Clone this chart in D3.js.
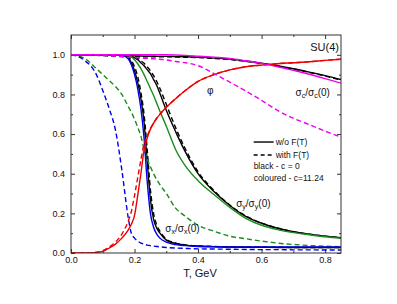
<!DOCTYPE html>
<html>
<head>
<meta charset="utf-8">
<script src="https://cdn.jsdelivr.net/npm/d3@7"></script>
<style>
  body { margin: 0; background: #fff; }
  svg text { font-family: "Liberation Sans", Arial, sans-serif; fill: #111; }
  .axis path { display: none; }
  .axis line { stroke: #333; stroke-width: 1; }
</style>
</head>
<body>
<div class="chart"></div>
<script>
var width = 397, height = 304;
var margin = {left: 71, right: 56, top: 35, bottom: 51};

// temperature grid, GeV
var T = [0, 0.04, 0.08, 0.1, 0.12, 0.14, 0.16, 0.18, 0.19, 0.2, 0.21, 0.22, 0.23, 0.24, 0.25,
         0.26, 0.27, 0.28, 0.3, 0.33, 0.36, 0.4, 0.45, 0.5, 0.55, 0.6, 0.65, 0.7, 0.75, 0.8, 0.85];

// black: c = 0
var sxBlack      = [1, 1, 1, 1, 1, 0.999, 0.998, 0.985, 0.96, 0.92, 0.86, 0.78, 0.66, 0.46, 0.27,
                    0.17, 0.125, 0.1, 0.065, 0.048, 0.04, 0.035, 0.032, 0.03, 0.029, 0.029, 0.028, 0.028, 0.028, 0.028, 0.028];
var sxBlackF     = [1, 1, 1, 1, 1, 0.999, 0.998, 0.99, 0.97, 0.94, 0.89, 0.81, 0.7, 0.52, 0.32,
                    0.2, 0.14, 0.11, 0.07, 0.05, 0.041, 0.036, 0.033, 0.031, 0.03, 0.029, 0.029, 0.028, 0.028, 0.028, 0.028];
var syBlack      = [1, 1, 1, 1, 1, 1, 1, 0.997, 0.992, 0.985, 0.975, 0.96, 0.945, 0.925, 0.905,
                    0.875, 0.845, 0.805, 0.72, 0.61, 0.51, 0.4, 0.31, 0.24, 0.185, 0.15, 0.125, 0.108, 0.095, 0.085, 0.077];
var syBlackF     = [1, 1, 1, 1, 1, 1, 1, 0.998, 0.995, 0.99, 0.982, 0.97, 0.957, 0.94, 0.92,
                    0.895, 0.865, 0.83, 0.75, 0.63, 0.525, 0.41, 0.315, 0.242, 0.187, 0.151, 0.126, 0.108, 0.095, 0.085, 0.077];
var scBlack      = [1, 1, 0.999, 0.999, 0.998, 0.997, 0.997, 0.996, 0.995, 0.995, 0.994, 0.994, 0.993, 0.993, 0.993,
                    0.993, 0.992, 0.992, 0.992, 0.991, 0.99, 0.988, 0.984, 0.978, 0.969, 0.958, 0.945, 0.93, 0.913, 0.895, 0.875];
var scBlackF     = [1, 0.999, 0.997, 0.996, 0.994, 0.993, 0.992, 0.991, 0.99, 0.99, 0.99, 0.99, 0.99, 0.99, 0.99,
                    0.99, 0.99, 0.99, 0.99, 0.989, 0.988, 0.986, 0.982, 0.976, 0.967, 0.956, 0.943, 0.928, 0.911, 0.893, 0.873];

// coloured: c = 11.24
var sxBlue       = [1, 1, 1, 1, 1, 0.999, 0.997, 0.98, 0.95, 0.9, 0.83, 0.73, 0.58, 0.36, 0.2,
                    0.13, 0.095, 0.075, 0.055, 0.042, 0.037, 0.033, 0.031, 0.03, 0.03, 0.03, 0.03, 0.03, 0.03, 0.03, 0.03];
var sxBlueF      = [1, 0.975, 0.9, 0.82, 0.73, 0.62, 0.42, 0.18, 0.1, 0.075, 0.06, 0.05, 0.045, 0.04, 0.037,
                    0.035, 0.033, 0.031, 0.028, 0.025, 0.023, 0.021, 0.02, 0.019, 0.018, 0.017, 0.017, 0.016, 0.016, 0.015, 0.015];
var syGreen      = [1, 1, 1, 1, 1, 1, 1, 0.997, 0.99, 0.975, 0.955, 0.93, 0.9, 0.865, 0.83,
                    0.795, 0.755, 0.715, 0.64, 0.52, 0.44, 0.365, 0.295, 0.23, 0.175, 0.14, 0.118, 0.103, 0.092, 0.082, 0.074];
var syGreenF     = [1, 0.985, 0.93, 0.9, 0.87, 0.84, 0.8, 0.74, 0.71, 0.675, 0.635, 0.59, 0.525, 0.475, 0.435,
                    0.4, 0.37, 0.345, 0.3, 0.225, 0.185, 0.14, 0.11, 0.085, 0.072, 0.06, 0.05, 0.043, 0.038, 0.034, 0.032];
var scMagenta    = [1, 1, 1, 1, 1, 1, 1, 1, 1, 1, 1, 1, 1, 1, 1,
                    1, 1, 1, 1, 0.999, 0.997, 0.993, 0.988, 0.982, 0.97, 0.957, 0.94, 0.922, 0.902, 0.88, 0.857];
var scMagentaF   = [1, 1, 0.999, 0.998, 0.996, 0.993, 0.99, 0.988, 0.987, 0.986, 0.985, 0.984, 0.983, 0.982, 0.981,
                    0.98, 0.979, 0.978, 0.974, 0.966, 0.96, 0.945, 0.905, 0.862, 0.818, 0.77, 0.72, 0.68, 0.648, 0.615, 0.585];
var phiRed       = [0, 0, 0.003, 0.008, 0.025, 0.045, 0.075, 0.116, 0.145, 0.19, 0.29, 0.4, 0.52, 0.58, 0.625,
                    0.655, 0.68, 0.7, 0.735, 0.78, 0.82, 0.866, 0.9, 0.924, 0.94, 0.948, 0.955, 0.96, 0.965, 0.972, 0.978];
var phiRedF      = [0, 0, 0.004, 0.012, 0.03, 0.055, 0.095, 0.16, 0.21, 0.29, 0.38, 0.47, 0.55, 0.59, 0.628,
                    0.656, 0.68, 0.7, 0.735, 0.78, 0.82, 0.866, 0.9, 0.924, 0.94, 0.948, 0.955, 0.96, 0.965, 0.972, 0.978];

var xTicks = [0.0, 0.2, 0.4, 0.6, 0.8];
var yTicks = [0.0, 0.2, 0.4, 0.6, 0.8, 1.0];

var series = [
  {values: scBlack, color: "#000", dash: null},
  {values: scBlackF, color: "#000", dash: "5,3"},
  {values: syBlack, color: "#000", dash: null},
  {values: syBlackF, color: "#000", dash: "5,3"},
  {values: sxBlack, color: "#000", dash: null},
  {values: sxBlackF, color: "#000", dash: "5,3"},
  {values: syGreen, color: "#1a8c1a", dash: null},
  {values: syGreenF, color: "#1a8c1a", dash: "5,3"},
  {values: sxBlue, color: "#0000ee", dash: null},
  {values: sxBlueF, color: "#0000ee", dash: "5,3"},
  {values: phiRed, color: "#ee0000", dash: null},
  {values: phiRedF, color: "#ee0000", dash: "5,3"},
  {values: scMagenta, color: "#ee00ee", dash: null},
  {values: scMagentaF, color: "#ee00ee", dash: "5,3"}
];

var svg = d3.select(".chart").append("svg")
    .attr("width", width)
    .attr("height", height);

var w = width - margin.left - margin.right,
    h = height - margin.top - margin.bottom;

var x = d3.scaleLinear().domain([0, 0.85]).range([0, w]);
var y = d3.scaleLinear().domain([0, 1.1]).range([h, 0]);

var g = svg.append("g")
    .attr("transform", "translate(" + margin.left + "," + margin.top + ")");

// ticks, all pointing inside
var xMinor = d3.range(0.1, 0.85, 0.2), yMinor = d3.range(0.1, 1.1, 0.2);

g.append("g").attr("class", "axis")
    .attr("transform", "translate(0," + h + ")")
    .call(d3.axisBottom(x).tickValues(xTicks).tickFormat(d3.format(".1f")).tickSizeInner(-4).tickPadding(4))
    .call(function(a){ a.selectAll("text").style("font-size", "9px"); });
g.append("g").attr("class", "axis")
    .attr("transform", "translate(0," + h + ")")
    .call(d3.axisBottom(x).tickValues(xMinor).tickFormat("").tickSizeInner(-2));
g.append("g").attr("class", "axis")
    .call(d3.axisTop(x).tickValues(xTicks).tickFormat("").tickSizeInner(-4));
g.append("g").attr("class", "axis")
    .call(d3.axisTop(x).tickValues(xMinor).tickFormat("").tickSizeInner(-2));

g.append("g").attr("class", "axis")
    .call(d3.axisLeft(y).tickValues(yTicks).tickFormat(d3.format(".1f")).tickSizeInner(-4).tickPadding(6))
    .call(function(a){ a.selectAll("text").style("font-size", "9px"); });
g.append("g").attr("class", "axis")
    .call(d3.axisLeft(y).tickValues(yMinor).tickFormat("").tickSizeInner(-2));
g.append("g").attr("class", "axis")
    .attr("transform", "translate(" + w + ",0)")
    .call(d3.axisRight(y).tickValues(yTicks).tickFormat("").tickSizeInner(-4));
g.append("g").attr("class", "axis")
    .attr("transform", "translate(" + w + ",0)")
    .call(d3.axisRight(y).tickValues(yMinor).tickFormat("").tickSizeInner(-2));

// curves
var clip = svg.append("clipPath").attr("id", "clip")
  .append("rect").attr("width", w).attr("height", h);

var line = d3.line()
    .x(function(d, i){ return x(T[i]); })
    .y(function(d){ return y(d); })
    .curve(d3.curveMonotoneX);

g.append("g").attr("clip-path", "url(#clip)")
  .selectAll(".curve")
    .data(series)
  .enter().append("path")
    .attr("class", "curve")
    .attr("fill", "none")
    .attr("stroke", function(d){ return d.color; })
    .attr("stroke-width", 1.4)
    .attr("stroke-dasharray", function(d){ return d.dash; })
    .attr("d", function(d){ return line(d.values); });

// frame
g.append("rect")
    .attr("width", w).attr("height", h)
    .attr("fill", "none").attr("stroke", "#333").attr("stroke-width", 1);

// axis title
g.append("text")
    .attr("x", w / 2 - 6).attr("y", h + 24)
    .style("text-anchor", "middle").style("font-size", "11px")
    .text("T, GeV");

// curve labels
function ratioLabel(px, py, sub){
  var t = g.append("text").attr("x", px).attr("y", py).style("font-size", "10px");
  t.append("tspan").text("\u03c3");
  t.append("tspan").attr("dy", 2).style("font-size", "7px").text(sub);
  t.append("tspan").attr("dy", -2).text("/\u03c3");
  t.append("tspan").attr("dy", 2).style("font-size", "7px").text(sub);
  t.append("tspan").attr("dy", -2).text("(0)");
}
ratioLabel(x(0.707), y(0.79), "c");
ratioLabel(x(0.52), y(0.23), "y");
ratioLabel(x(0.297), y(0.105), "x");

g.append("text").attr("x", x(0.753)).attr("y", y(1.02))
    .style("font-size", "11px").text("SU(4)");
g.append("text").attr("x", x(0.428)).attr("y", y(0.8))
    .style("font-size", "10px").text("\u03c6");

// legend
var legend = g.append("g").attr("transform", "translate(" + x(0.575) + "," + y(0.56) + ")");
legend.append("line").attr("x1", 0).attr("x2", 20).attr("y1", 0).attr("y2", 0)
    .attr("stroke", "#000").attr("stroke-width", 1.4);
legend.append("line").attr("x1", 0).attr("x2", 20).attr("y1", 13).attr("y2", 13)
    .attr("stroke", "#000").attr("stroke-width", 1.4).attr("stroke-dasharray", "4,3");
legend.append("text").attr("x", 22).attr("y", 3).style("font-size", "8.5px").text("w/o F(T)");
legend.append("text").attr("x", 22).attr("y", 16).style("font-size", "8.5px").text("with F(T)");
legend.append("text").attr("x", 0).attr("y", 27).style("font-size", "8.5px").text("black - c = 0");
legend.append("text").attr("x", 0).attr("y", 39).style("font-size", "8.5px").text("coloured - c=11.24");
</script>
</body>
</html>
